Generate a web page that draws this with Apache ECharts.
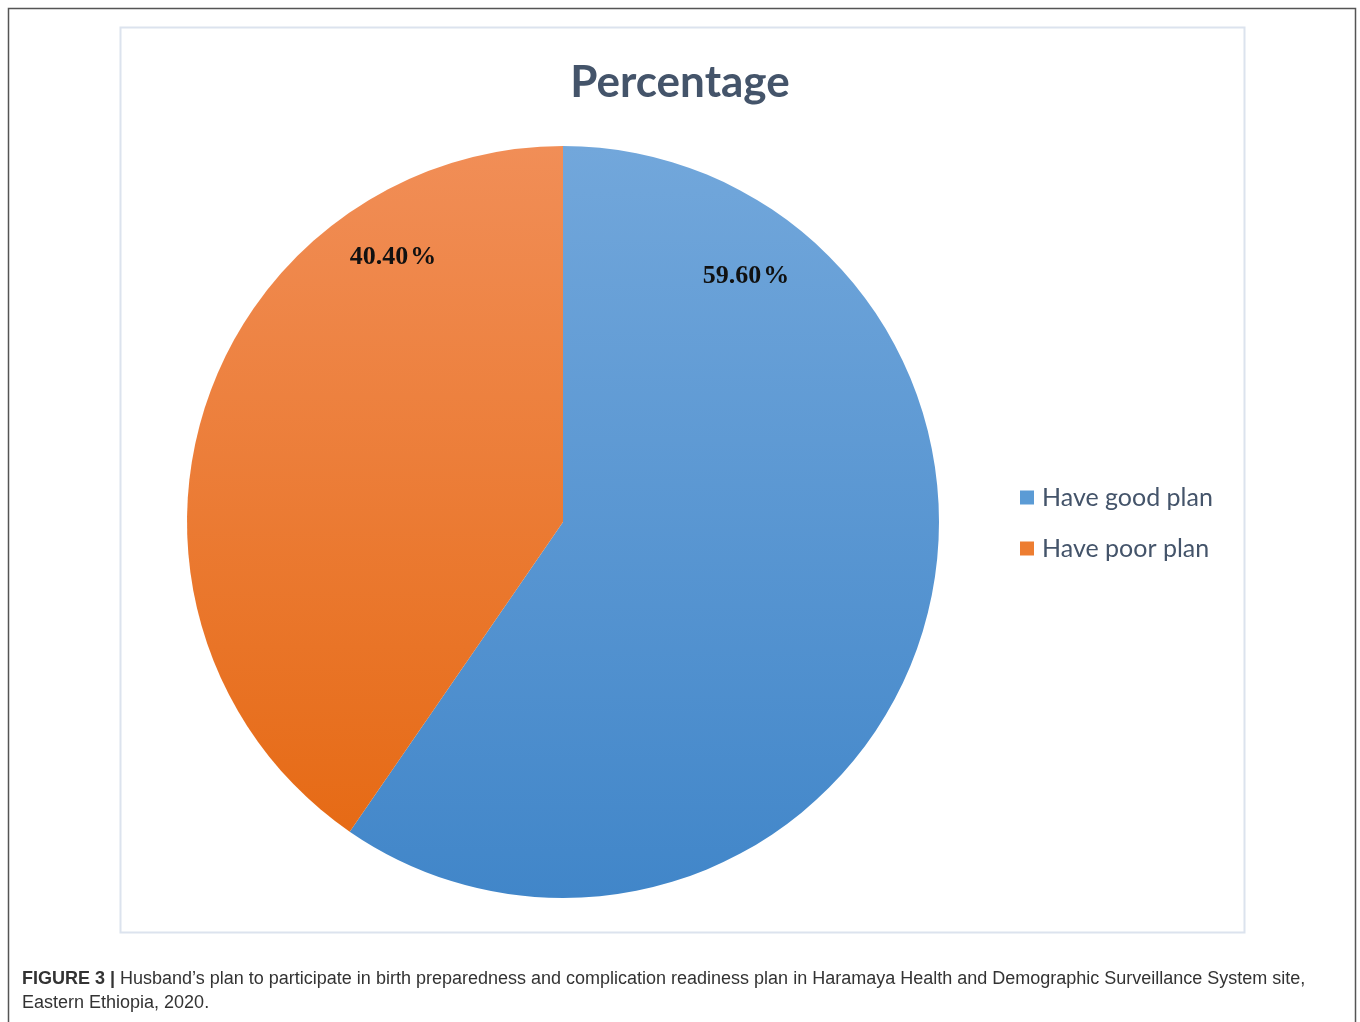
<!DOCTYPE html>
<html>
<head>
<meta charset="utf-8">
<script src="https://cdn.jsdelivr.net/npm/echarts@6/dist/echarts.min.js"></script>
<style>
html,body{margin:0;padding:0;background:#fff;}
#chart{width:1360px;height:1022px;}
</style>
</head>
<body>
<div id="chart"></div>
<script>
var categories = ['Have good plan', 'Have poor plan'];
var values = [59.6, 40.4];
var titleText = 'Percentage';
var captionLine1Bold = 'FIGURE 3 |';
var captionLine1 = ' Husband\u2019s plan to participate in birth preparedness and complication readiness plan in Haramaya Health and Demographic Surveillance System site,';
var captionLine2 = 'Eastern Ethiopia, 2020.';

var chart = echarts.init(document.getElementById('chart'), null, {renderer: 'canvas'});

var cx = 563, cy = 522, r = 376;
var gradBlue = new echarts.graphic.LinearGradient(0, cy - r, 0, cy + r, [
  {offset: 0, color: '#72A7DB'}, {offset: 1, color: '#4186C9'}], true);
var gradOrange = new echarts.graphic.LinearGradient(0, cy - r, 0, cy + r, [
  {offset: 0, color: '#F18E57'}, {offset: 1, color: '#E5670F'}], true);
var fills = [gradBlue, gradOrange];
var legendColors = ['#5B9BD5', '#ED7D31'];
var labelCenters = [[746, 276], [393, 257]];

var seriesData = categories.map(function (c, i) {
  return {name: c, value: values[i], itemStyle: {color: fills[i]}};
});

chart.setOption({
  backgroundColor: '#ffffff',
  animation: false,
  title: {
    text: titleText,
    left: 'center',
    top: 54,
    textStyle: {fontFamily: 'Lato', fontWeight: 'bold', fontSize: 44, lineHeight: 48, color: '#44546A'}
  },
  legend: {
    orient: 'vertical',
    left: 1015,
    top: 480,
    itemWidth: 14,
    itemHeight: 14,
    itemGap: 26,
    icon: 'rect',
    selectedMode: false,
    textStyle: {fontFamily: 'Lato', fontSize: 25, lineHeight: 25, color: '#44546A', padding: [0, 0, 0, 3]},
    data: categories.map(function (c, i) { return {name: c, itemStyle: {color: legendColors[i]}}; })
  },
  series: [{
    type: 'pie',
    center: [cx, cy],
    radius: [0, r],
    startAngle: 90,
    clockwise: true,
    silent: true,
    itemStyle: {borderWidth: 0},
    label: {
      show: true,
      position: 'inside',
      fontFamily: 'Liberation Serif',
      fontWeight: 'bold',
      fontSize: 26,
      color: '#111111',
      formatter: function (p) { return p.value.toFixed(2) + '\u200A%'; }
    },
    labelLine: {show: false},
    labelLayout: function (p) {
      var pos = labelCenters[p.dataIndex];
      return {x: pos[0], y: pos[1], align: 'center', verticalAlign: 'middle'};
    },
    data: seriesData
  }],
  graphic: [
    {type: 'polyline', silent: true, shape: {points: [[8.5, 1022], [8.5, 8.5], [1355.5, 8.5], [1355.5, 1022]]},
      style: {stroke: '#555555', lineWidth: 1.5, fill: null}},
    {type: 'rect', silent: true, shape: {x: 120.5, y: 27.5, width: 1124, height: 905},
      style: {stroke: '#DCE3EE', lineWidth: 2, fill: null}},
    {type: 'text', silent: true, x: 22, y: 979,
      style: {text: '{b|' + captionLine1Bold + '}' + captionLine1, fontFamily: 'Liberation Sans', fontSize: 18,
        fill: '#333333', verticalAlign: 'middle',
        rich: {b: {fontWeight: 'bold', fontFamily: 'Liberation Sans', fontSize: 18, fill: '#333333'}}}},
    {type: 'text', silent: true, x: 22, y: 1003,
      style: {text: captionLine2, fontFamily: 'Liberation Sans', fontSize: 18, fill: '#333333', verticalAlign: 'middle'}}
  ]
});
</script>
</body>
</html>
